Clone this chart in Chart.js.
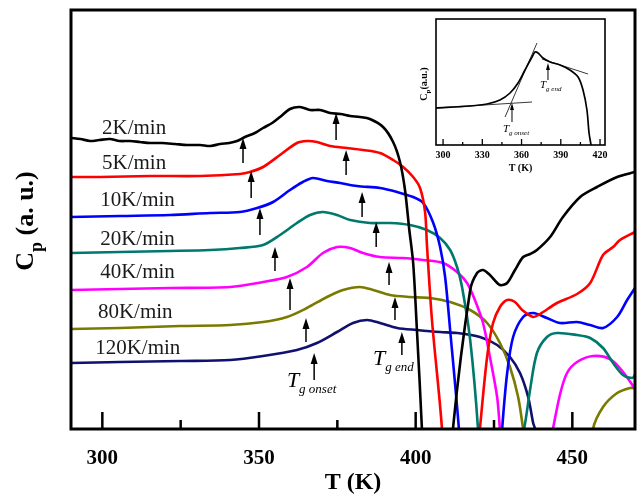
<!DOCTYPE html>
<html>
<head>
<meta charset="utf-8">
<script src="https://cdn.jsdelivr.net/npm/chart.js@4.4.0/dist/chart.umd.min.js"></script>
<style>
  html, body { margin: 0; padding: 0; background: #fff; }
  #wrap { position: relative; width: 641px; height: 500px; }
  #main { position: absolute; left: 0; top: 0; }
  #inset { position: absolute; left: 406px; top: 10px; }
</style>
</head>
<body>
<div id="wrap">
  <canvas id="main" width="641" height="500"></canvas>
  <canvas id="inset" width="210" height="170"></canvas>
</div>
<script>
// ---- main plot data: temperature (K) and Cp (a.u.) per heating rate ----
const rates = ['2K/min', '5K/min', '10K/min', '20K/min', '40K/min', '80K/min', '120K/min'];
const colors = ['#000000', '#ff0000', '#0000ff', '#00786e', '#ff00ff', '#7a7a00', '#10106e'];

const t2 = [290, 293, 296.1, 299, 302.4, 305.5, 308.8, 312, 315.2, 319, 323.2, 327, 331.2, 334.5, 337.6, 340.5, 343, 345.5, 348.7, 351.3, 354.2, 356.7, 359.9, 363.1, 366.3, 369.5, 372.7, 376, 379.1, 382.2, 385.4, 389.6, 392.8, 395, 396.6, 397.9, 399.2, 400.4, 402, 403.5, 407, 410, 411.9, 417.4, 419.6, 421.5, 423.7, 426.9, 429.2, 431.7, 434.3, 436.5, 438.7, 442.9, 447, 452.5, 457.9, 464.3, 470];
const cp2 = [29.1, 29.0, 28.8, 28.9, 29.0, 28.8, 28.8, 28.7, 28.6, 28.6, 28.5, 28.4, 28.4, 28.3, 28.5, 28.6, 28.8, 29.2, 29.6, 30.1, 30.6, 31.2, 32.0, 32.2, 31.9, 31.9, 31.6, 31.5, 31.3, 31.2, 31.0, 30.2, 28.7, 26.7, 23.9, 20.1, 16.6, 9.9, 0, -12, -25, -10, 0, 13.9, 15.6, 15.9, 15.4, 14.4, 14.6, 15.9, 17.2, 17.5, 17.9, 19.2, 21.2, 23.2, 24.2, 25.2, 25.7];

const t5 = [290, 299.3, 315.2, 331.2, 343.9, 347.1, 351.3, 356.7, 362.1, 365.3, 368.5, 372.7, 378.1, 383.2, 388.6, 392.8, 396, 399.2, 401.4, 403, 403.6, 405.2, 408.4, 411, 414, 417.5, 420.5, 422.8, 424.7, 426.9, 429.2, 431.7, 434, 437.5, 439.7, 445.1, 451.5, 455.7, 459.8, 463, 465.2, 470];
const cp5 = [25.2, 25.2, 25.3, 25.3, 25.5, 25.7, 26.2, 27.4, 28.6, 28.8, 28.7, 28.3, 28.1, 27.9, 27.6, 26.9, 26.2, 25.2, 24.1, 21.7, 18.4, 10.9, 0, -15, -20, -10, 0, 7.2, 10.6, 12.2, 12.9, 12.7, 11.9, 11.2, 11.5, 12.6, 13.5, 14.6, 17.4, 18.2, 18.9, 19.7];

const t10 = [290, 305.6, 321.6, 334.4, 343.9, 349.4, 354.5, 359.9, 364, 367.2, 371.7, 375.9, 381.3, 388.6, 394.1, 399.2, 402.4, 405.5, 407.8, 409.4, 411, 413.8, 417, 421, 425, 427.6, 429.2, 431.1, 434.3, 437.5, 441.9, 446.1, 451.5, 455.7, 459.8, 464.3, 467.5, 470];
const cp10 = [21.2, 21.3, 21.4, 21.6, 21.7, 22.1, 22.7, 23.9, 24.7, 25.1, 24.8, 24.6, 24.3, 24.1, 23.7, 23.2, 22.6, 20.7, 18.2, 15.2, 9.9, 0, -15, -25, -12, 0, 5.6, 9.2, 11.2, 11.6, 11.1, 10.6, 10.7, 10.4, 10.1, 11.2, 12.9, 14.1];

const t20 = [290, 305.6, 321.6, 334.4, 343.9, 351.3, 356.7, 362.1, 366.3, 370.4, 374.9, 379.1, 385.4, 391.8, 398.2, 403.6, 407.8, 411, 413.2, 414.8, 417.4, 419.9, 421.5, 424.5, 427.5, 434.6, 436.5, 438.7, 441.9, 445.1, 451.5, 455.7, 459.8, 463, 466.2, 469.1, 470];
const cp20 = [17.6, 17.7, 17.8, 17.9, 18.1, 18.4, 19.4, 20.6, 21.4, 21.7, 21.4, 20.9, 20.6, 20.6, 20.4, 19.9, 19.1, 17.9, 16.2, 14.2, 8.9, 0, -10, -16, -10, 0, 3.9, 7.6, 9.2, 9.6, 9.4, 9.1, 8.1, 6.6, 5.4, 5.1, 5.4];

const t40 = [290, 305.6, 321.6, 340.8, 351.3, 358.9, 365.3, 370.4, 374.9, 379.1, 383.2, 388.6, 396, 402.4, 408.7, 413.2, 416.4, 418.9, 421.5, 423.7, 426, 426.9, 430, 433.5, 437, 443.8, 446.1, 448.3, 451.5, 456.6, 462, 466.2, 470];
const cp40 = [13.9, 14.0, 14.1, 14.2, 14.7, 15.2, 16.2, 17.6, 18.2, 18.1, 17.6, 17.2, 17.1, 16.9, 16.6, 15.7, 14.6, 12.9, 10.6, 7.2, 3.2, 0, -10, -15, -10, 0, 3.5, 5.6, 6.7, 7.3, 7.0, 5.7, 4.0];

const t80 = [290, 305.6, 324.8, 340.8, 351.3, 358.9, 365.3, 371.7, 376.8, 382.2, 386.4, 391.8, 398.2, 404.6, 411, 417.4, 422.8, 426.9, 430.1, 432.7, 434.3, 440, 445.5, 451, 456.6, 459.8, 464.3, 468.4, 470];
const cp80 = [10.0, 10.1, 10.3, 10.4, 10.7, 11.2, 12.1, 13.2, 13.9, 14.2, 13.9, 13.4, 13.2, 13.1, 12.7, 11.9, 10.6, 8.6, 6.2, 3.2, 0, -12, -20, -12, 0, 2.2, 3.6, 4.1, 4.1];

const t120 = [290, 305.6, 324.8, 340.8, 351.3, 362.1, 368.5, 374.9, 380, 384.5, 388.6, 394.1, 400.4, 407.8, 413.2, 420.5, 426, 430.1, 433.3, 435.9, 437.5, 438.1, 441];
const cp120 = [6.6, 6.7, 6.8, 6.9, 7.3, 7.9, 8.6, 9.7, 10.6, 10.9, 10.6, 10.1, 9.9, 9.7, 9.6, 9.2, 8.4, 7.2, 5.6, 3.2, 0.6, 0, -8];

const temps = [t2, t5, t10, t20, t40, t80, t120];
const cps = [cp2, cp5, cp10, cp20, cp40, cp80, cp120];

// label anchors (K, a.u.)
const labelT = [299.9, 299.9, 299.3, 299.3, 299.3, 298.6, 297.7];
const labelCp = [30.1, 26.6, 22.9, 19.0, 15.7, 11.7, 8.1];

// Tg onset / Tg end arrows
const onsetT = [344.9, 347.5, 350.3, 355.1, 359.9, 365.0, 367.6];
const onsetTip = [29.1, 25.8, 22.1, 18.2, 15.1, 11.1, 7.6];
const onsetTail = [26.6, 23.1, 19.4, 15.8, 11.9, 8.7, 4.9];
const endT = [374.6, 377.8, 382.9, 387.4, 391.5, 393.4, 395.6];
const endTip = [31.6, 27.9, 23.7, 20.7, 16.7, 13.2, 9.7];
const endTail = [28.9, 25.4, 21.2, 18.2, 14.4, 10.9, 7.4];

const xTicks = [300, 350, 400, 450];
const xMinor = [325, 375, 425];

// ---- inset data (2K/min curve with tangents) ----
const insetT = [294.6, 320.6, 333.6, 343.5, 351.2, 357.3, 362.6, 368.0, 370.3, 372.6, 376.4, 381.8, 389.4, 397.0, 403.2, 407.0, 410.0, 411.6, 413.1, 414.5];
const insetCp = [3.7, 3.9, 4.1, 4.5, 5.2, 6.2, 7.5, 8.8, 9.3, 9.2, 8.7, 8.3, 8.0, 7.5, 6.8, 5.5, 3.5, 1.2, 0, -1.5];
const baseLineT = [294.6, 368.0], baseLineCp = [3.7, 4.3];
const riseLineT = [347.4, 371.8], riseLineCp = [2.8, 10.2];
const endLineT = [375.6, 410.8], endLineCp = [8.6, 7.1];
const insetTicks = [300, 330, 360, 390, 420];
const insetMinor = [315, 345, 375, 405];

const serif = "'Liberation Serif', 'Times New Roman', serif";

function arrow(ctx, x, yTip, yTail, w, h, lw) {
  ctx.lineWidth = lw;
  ctx.beginPath();
  ctx.moveTo(x, yTail);
  ctx.lineTo(x, yTip + h * 0.8);
  ctx.stroke();
  ctx.beginPath();
  ctx.moveTo(x, yTip);
  ctx.lineTo(x - w / 2, yTip + h);
  ctx.lineTo(x + w / 2, yTip + h);
  ctx.closePath();
  ctx.fill();
}

function subLabel(ctx, x, y, main, sub, mainSize, subSize, dx, dy) {
  ctx.font = 'italic ' + mainSize + 'px ' + serif;
  ctx.fillText(main, x, y);
  const w = ctx.measureText(main).width;
  ctx.font = 'italic ' + subSize + 'px ' + serif;
  ctx.fillText(sub, x + w + dx, y + dy);
}

const mainDecor = {
  id: 'mainDecor',
  afterDatasetsDraw(chart) {
    const {ctx, chartArea: a, scales: {x, y}} = chart;
    ctx.save();
    ctx.strokeStyle = '#000';
    ctx.fillStyle = '#000';
    ctx.lineWidth = 2.5;
    xTicks.forEach(v => {
      const px = x.getPixelForValue(v);
      ctx.beginPath(); ctx.moveTo(px, a.bottom); ctx.lineTo(px, a.bottom - 17); ctx.stroke();
    });
    xMinor.forEach(v => {
      const px = x.getPixelForValue(v);
      ctx.beginPath(); ctx.moveTo(px, a.bottom); ctx.lineTo(px, a.bottom - 9); ctx.stroke();
    });
    ctx.lineWidth = 3;
    ctx.strokeRect(a.left, a.top, a.right - a.left, a.bottom - a.top);

    for (let i = 0; i < rates.length; i++) {
      arrow(ctx, x.getPixelForValue(onsetT[i]), y.getPixelForValue(onsetTip[i]), y.getPixelForValue(onsetTail[i]), 7, 11, 1.5);
      arrow(ctx, x.getPixelForValue(endT[i]), y.getPixelForValue(endTip[i]), y.getPixelForValue(endTail[i]), 7, 11, 1.5);
    }

    ctx.font = '21px ' + serif;
    ctx.fillStyle = '#1a1a1a';
    ctx.textAlign = 'left';
    ctx.textBaseline = 'middle';
    rates.forEach((r, i) => ctx.fillText(r, x.getPixelForValue(labelT[i]), y.getPixelForValue(labelCp[i])));

    ctx.fillStyle = '#000';
    ctx.textBaseline = 'alphabetic';
    subLabel(ctx, x.getPixelForValue(358.9), y.getPixelForValue(4.2), 'T', 'g onset', 22, 13, 0, 6);
    subLabel(ctx, x.getPixelForValue(386.4), y.getPixelForValue(6.4), 'T', 'g end', 22, 13, 0, 6);

    // y-axis title with subscript
    ctx.translate(33, 221);
    ctx.rotate(-Math.PI / 2);
    const bigF = 'bold 26px ' + serif, smallF = 'bold 18px ' + serif;
    ctx.font = bigF;
    const wC = ctx.measureText('C').width;
    const wRest = ctx.measureText(' (a. u.)').width;
    ctx.font = smallF;
    const wP = ctx.measureText('p').width;
    let sx = -(wC + wP + wRest) / 2;
    ctx.font = bigF; ctx.fillText('C', sx, 0); sx += wC;
    ctx.font = smallF; ctx.fillText('p', sx, 9); sx += wP;
    ctx.font = bigF; ctx.fillText(' (a. u.)', sx, 0);
    ctx.restore();
  }
};

const mainSets = rates.map((r, i) => ({
  label: r,
  data: temps[i].map((t, j) => ({x: t, y: cps[i][j]})),
  borderColor: colors[i],
  borderWidth: 2.6,
  pointRadius: 0,
  tension: 0.3,
  clip: 0
}));

new Chart(document.getElementById('main'), {
  type: 'line',
  data: {datasets: mainSets},
  options: {
    responsive: false,
    animation: false,
    layout: {padding: {top: 10, right: 6, left: 0, bottom: 0}},
    plugins: {legend: {display: false}, tooltip: {enabled: false}},
    scales: {
      x: {
        type: 'linear', min: 290, max: 470,
        afterBuildTicks: s => { s.ticks = xTicks.map(v => ({value: v})); },
        afterFit: s => { s.height = 71; },
        grid: {display: false, drawTicks: false},
        border: {display: false},
        ticks: {color: '#000', padding: 17, font: {family: serif, size: 21, weight: 'bold'}},
        title: {display: true, text: 'T (K)', color: '#000', padding: {top: 0, bottom: 3},
                font: {family: serif, size: 24, weight: 'bold'}}
      },
      y: {
        type: 'linear', min: 0, max: 41.9,
        afterFit: s => { s.width = 71; },
        grid: {display: false, drawTicks: false},
        border: {display: false},
        ticks: {display: false}
      }
    }
  },
  plugins: [mainDecor]
});

// ---- inset ----
const insetDecor = {
  id: 'insetDecor',
  afterDatasetsDraw(chart) {
    const {ctx, chartArea: a, scales: {x, y}} = chart;
    ctx.save();
    ctx.strokeStyle = '#000';
    ctx.fillStyle = '#000';
    ctx.lineWidth = 1.3;
    insetTicks.forEach(v => {
      const px = x.getPixelForValue(v);
      ctx.beginPath(); ctx.moveTo(px, a.bottom); ctx.lineTo(px, a.bottom - 6); ctx.stroke();
    });
    insetMinor.forEach(v => {
      const px = x.getPixelForValue(v);
      ctx.beginPath(); ctx.moveTo(px, a.bottom); ctx.lineTo(px, a.bottom - 3); ctx.stroke();
    });
    ctx.lineWidth = 1.6;
    ctx.strokeRect(a.left, a.top, a.right - a.left, a.bottom - a.top);
    arrow(ctx, x.getPixelForValue(352.7), y.getPixelForValue(4.2), y.getPixelForValue(2.3), 4, 7, 1);
    arrow(ctx, x.getPixelForValue(380.2), y.getPixelForValue(8.2), y.getPixelForValue(6.5), 4, 7, 1);
    ctx.textAlign = 'left';
    ctx.textBaseline = 'alphabetic';
    subLabel(ctx, x.getPixelForValue(345.8), y.getPixelForValue(1.3), 'T', 'g onset', 11, 7, 0, 3);
    subLabel(ctx, x.getPixelForValue(374.1), y.getPixelForValue(5.7), 'T', 'g end', 11, 7, 0, 3);

    ctx.translate(21, 74);
    ctx.rotate(-Math.PI / 2);
    ctx.font = 'bold 10px ' + serif;
    const wC = ctx.measureText('C').width;
    const wRest = ctx.measureText('(a.u.)').width;
    ctx.font = 'bold 7px ' + serif;
    const wP = ctx.measureText('p').width;
    let sx = -(wC + wP + wRest) / 2;
    ctx.font = 'bold 10px ' + serif; ctx.fillText('C', sx, 0); sx += wC;
    ctx.font = 'bold 7px ' + serif; ctx.fillText('p', sx, 3); sx += wP;
    ctx.font = 'bold 10px ' + serif; ctx.fillText('(a.u.)', sx, 0);
    ctx.restore();
  }
};

const thin = (tArr, cArr) => ({
  data: tArr.map((t, j) => ({x: t, y: cArr[j]})),
  borderColor: '#222', borderWidth: 0.9, pointRadius: 0, clip: 0
});

new Chart(document.getElementById('inset'), {
  type: 'line',
  data: {
    datasets: [
      {data: insetT.map((t, j) => ({x: t, y: insetCp[j]})), borderColor: '#000', borderWidth: 1.7,
       pointRadius: 0, tension: 0.3, clip: 0},
      thin(baseLineT, baseLineCp),
      thin(riseLineT, riseLineCp),
      thin(endLineT, endLineCp)
    ]
  },
  options: {
    responsive: false,
    animation: false,
    layout: {padding: {top: 9, right: 11, left: 0, bottom: 0}},
    plugins: {legend: {display: false}, tooltip: {enabled: false}},
    scales: {
      x: {
        type: 'linear', min: 294.6, max: 423.8,
        afterBuildTicks: s => { s.ticks = insetTicks.map(v => ({value: v})); },
        afterFit: s => { s.height = 35; },
        grid: {display: false, drawTicks: false},
        border: {display: false},
        ticks: {color: '#000', padding: 4, font: {family: serif, size: 10, weight: 'bold'}},
        title: {display: true, text: 'T (K)', color: '#000', padding: {top: 0, bottom: 6},
                font: {family: serif, size: 10, weight: 'bold'}}
      },
      y: {
        type: 'linear', min: 0, max: 12.6,
        afterFit: s => { s.width = 30; },
        grid: {display: false, drawTicks: false},
        border: {display: false},
        ticks: {display: false}
      }
    }
  },
  plugins: [insetDecor]
});
</script>
</body>
</html>
